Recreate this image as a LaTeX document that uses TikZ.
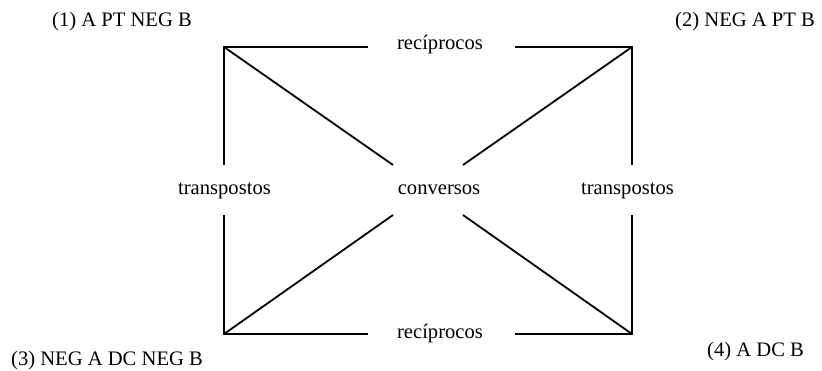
\documentclass[tikz,border=0pt]{standalone}
\usepackage{fontspec}
\setmainfont{Liberation Serif}
\begin{document}
\begin{tikzpicture}[x=1pt,y=-1pt,
  lbl/.style={inner sep=0pt, font=\fontsize{20.6}{24}\selectfont},
  edge/.style={draw=black, line width=1.8pt, line cap=butt}]
\useasboundingbox (0,0) rectangle (822,371);
% corners
\coordinate (TL) at (224,47);
\coordinate (TR) at (632,47);
\coordinate (BL) at (224,334);
\coordinate (BR) at (632,334);
% gap ends
\coordinate (TLh) at (368,47);
\coordinate (TRh) at (515,47);
\coordinate (BLh) at (368,334);
\coordinate (BRh) at (515,334);
\coordinate (TLv) at (224,165);
\coordinate (BLv) at (224,215);
\coordinate (TRv) at (632,165);
\coordinate (BRv) at (632,215);
\coordinate (TLd) at (393,165);
\coordinate (TRd) at (463,165);
\coordinate (BLd) at (393,215);
\coordinate (BRd) at (463,215);
% labels
\node[lbl, anchor=base west] (l1) at (52,27) {(1) A PT NEG B};
\node[lbl, anchor=base west] (l2) at (675,27) {(2) NEG A PT B};
\node[lbl, anchor=base west] (l3) at (11,365) {(3) NEG A DC NEG B};
\node[lbl, anchor=base west] (l4) at (707,356) {(4) A DC B};
\node[lbl, anchor=base] (rt) at (440,50) {recíprocos};
\node[lbl, anchor=base] (rb) at (440,338) {recíprocos};
\node[lbl, anchor=base] (cv) at (439,195) {conversos};
\node[lbl, anchor=base] (tl) at (224.5,195) {transpostos};
\node[lbl, anchor=base] (tr) at (627.5,195) {transpostos};
% lines
\draw[edge] (TLh) -- (TL) -- (TLv);
\draw[edge] (TRh) -- (TR) -- (TRv);
\draw[edge] (BLh) -- (BL) -- (BLv);
\draw[edge] (BRh) -- (BR) -- (BRv);
\draw[edge] (TL) -- (TLd);
\draw[edge] (TR) -- (TRd);
\draw[edge] (BL) -- (BLd);
\draw[edge] (BR) -- (BRd);
\end{tikzpicture}
\end{document}
